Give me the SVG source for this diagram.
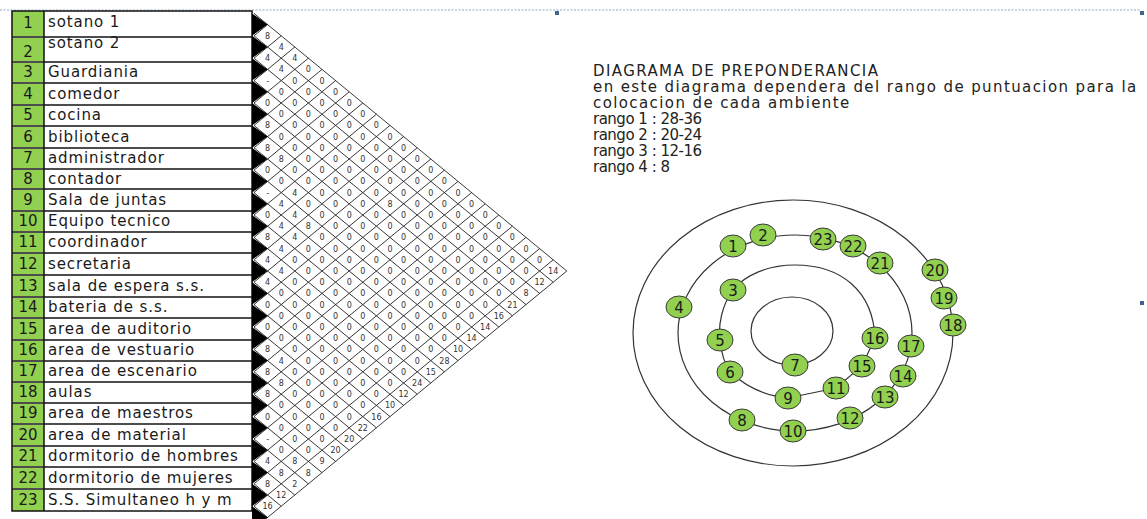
<svg xmlns="http://www.w3.org/2000/svg" width="1147" height="519" viewBox="0 0 1147 519">
<style>
.lbl{font-family:"DejaVu Sans",sans-serif;font-size:15px;letter-spacing:0.9px;fill:#1a1a1a}
.num{font-family:"DejaVu Sans",sans-serif;font-size:15px;text-anchor:middle;fill:#1a1a1a}
.mv{font-family:"DejaVu Sans",sans-serif;font-size:8px;text-anchor:middle;fill:#333}
.grid{stroke:#222;stroke-width:0.9;fill:none}
.txt{font-family:"DejaVu Sans",sans-serif;font-size:15px;letter-spacing:1.4px;fill:#222}
.rg{letter-spacing:-0.5px}
.ring{fill:none;stroke:#333;stroke-width:1.2}
.node ellipse{fill:#92D050;stroke:#3a3a3a;stroke-width:1}
.node text{font-family:"DejaVu Sans",sans-serif;font-size:15px;text-anchor:middle;fill:#1a1a1a}
.sep{stroke:#4d4d4d;stroke-width:1.8}
.handle{fill:#41648f}
</style>
<rect width="1147" height="519" fill="#fff"/>
<line x1="0" y1="10" x2="1140" y2="10" stroke="#8fa8c0" stroke-width="1" stroke-dasharray="2 1.5"/>
<rect class="handle" x="555" y="11" width="4" height="4"/>
<rect class="handle" x="1140" y="11" width="4" height="4"/>
<rect class="handle" x="1140" y="301" width="4" height="4"/>

<g id="table">
<rect x="12" y="11" width="32" height="500" fill="#92D050"/>
<rect x="44" y="11" width="208" height="500" fill="#fff"/>
<path class="sep" d="M12 37H252M12 62H252M12 83H252M12 105H252M12 126H252M12 148H252M12 169H252M12 189H252M12 211H252M12 232H252M12 253H252M12 275H252M12 297H252M12 318H252M12 340H252M12 361H252M12 382H252M12 403H252M12 424H252M12 446H252M12 467H252M12 489H252"/>
<rect x="12" y="11" width="240" height="500" fill="none" stroke="#111" stroke-width="1.5"/>
<line x1="44" y1="11" x2="44" y2="511" stroke="#111" stroke-width="1.5"/>
<g class="num">
<text x="28" y="28">1</text><text x="28" y="57">2</text><text x="28" y="77">3</text><text x="28" y="99">4</text><text x="28" y="120">5</text><text x="28" y="142">6</text><text x="28" y="163">7</text><text x="28" y="184">8</text><text x="28" y="205">9</text><text x="28" y="226">10</text><text x="28" y="247">11</text><text x="28" y="269">12</text><text x="28" y="291">13</text><text x="28" y="312">14</text><text x="28" y="334">15</text><text x="28" y="355">16</text><text x="28" y="376">17</text><text x="28" y="397">18</text><text x="28" y="418">19</text><text x="28" y="440">20</text><text x="28" y="461">21</text><text x="28" y="483">22</text><text x="28" y="505">23</text>
</g>
<g class="lbl">
<text x="48" y="27">sotano 1</text>
<text x="48" y="48">sotano 2</text>
<text x="48" y="77">Guardiania</text>
<text x="48" y="98.5">comedor</text>
<text x="48" y="120">cocina</text>
<text x="48" y="141.5">biblioteca</text>
<text x="48" y="163">administrador</text>
<text x="48" y="183.5">contador</text>
<text x="48" y="204.5">Sala de juntas</text>
<text x="48" y="226">Equipo tecnico</text>
<text x="48" y="247">coordinador</text>
<text x="48" y="268.5">secretaria</text>
<text x="48" y="290.5">sala de espera s.s.</text>
<text x="48" y="312">bateria de s.s.</text>
<text x="48" y="333.5">area de auditorio</text>
<text x="48" y="355">area de vestuario</text>
<text x="48" y="376">area de escenario</text>
<text x="48" y="397">aulas</text>
<text x="48" y="418">area de maestros</text>
<text x="48" y="439.5">area de material</text>
<text x="48" y="461">dormitorio de hombres</text>
<text x="48" y="482.5">dormitorio de mujeres</text>
<text x="48" y="504.5">S.S. Simultaneo h y m</text>
</g>
</g>

<g id="matrix">
<path fill="#000" d="M252 13.4L267.6 24.6L252 35.8L267.6 47L252 58.2L267.6 69.4L252 80.6L267.6 91.8L252 103L267.6 114.2L252 125.4L267.6 136.6L252 147.8L267.6 159L252 170.2L267.6 181.4L252 192.6L267.6 203.8L252 215L267.6 226.2L252 237.4L267.6 248.6L252 259.8L267.6 271L252 282.2L267.6 293.4L252 304.6L267.6 315.8L252 327L267.6 338.2L252 349.4L267.6 360.6L252 371.8L267.6 383L252 394.2L267.6 405.4L252 416.6L267.6 427.8L252 439L267.6 450.2L252 461.4L267.6 472.6L252 483.8L267.6 495L252 506.2L267.6 517.4L252 528.6Z"/>
<path class="grid" d="M254 13.4L566.8 271M254 35.8L553.2 282.2M254 58.2L539.6 293.4M254 80.6L526 304.6M254 103L512.4 315.8M254 125.4L498.8 327M254 147.8L485.2 338.2M254 170.2L471.6 349.4M254 192.6L458 360.6M254 215L444.4 371.8M254 237.4L430.8 383M254 259.8L417.2 394.2M254 282.2L403.6 405.4M254 304.6L390 416.6M254 327L376.4 427.8M254 349.4L362.8 439M254 371.8L349.2 450.2M254 394.2L335.6 461.4M254 416.6L322 472.6M254 439L308.4 483.8M254 461.4L294.8 495M254 483.8L281.2 506.2M254 506.2L267.6 517.4
M254 35.8L267.6 24.6M254 58.2L281.2 35.8M254 80.6L294.8 47M254 103L308.4 58.2M254 125.4L322 69.4M254 147.8L335.6 80.6M254 170.2L349.2 91.8M254 192.6L362.8 103M254 215L376.4 114.2M254 237.4L390 125.4M254 259.8L403.6 136.6M254 282.2L417.2 147.8M254 304.6L430.8 159M254 327L444.4 170.2M254 349.4L458 181.4M254 371.8L471.6 192.6M254 394.2L485.2 203.8M254 416.6L498.8 215M254 439L512.4 226.2M254 461.4L526 237.4M254 483.8L539.6 248.6M254 506.2L553.2 259.8M254 528.6L566.8 271"/>
<text class="mv"><tspan x="267.6" y="38.8">8</tspan><tspan x="267.6" dy="22.4">4</tspan><tspan x="267.6" dy="22.4">-</tspan><tspan x="267.6" dy="22.4">0</tspan><tspan x="267.6" dy="22.4">8</tspan><tspan x="267.6" dy="22.4">8</tspan><tspan x="267.6" dy="22.4">0</tspan><tspan x="267.6" dy="22.4">-</tspan><tspan x="267.6" dy="22.4">0</tspan><tspan x="267.6" dy="22.4">8</tspan><tspan x="267.6" dy="22.4">4</tspan><tspan x="267.6" dy="22.4">4</tspan><tspan x="267.6" dy="22.4">0</tspan><tspan x="267.6" dy="22.4">0</tspan><tspan x="267.6" dy="22.4">8</tspan><tspan x="267.6" dy="22.4">8</tspan><tspan x="267.6" dy="22.4">8</tspan><tspan x="267.6" dy="22.4">0</tspan><tspan x="267.6" dy="22.4">-</tspan><tspan x="267.6" dy="22.4">4</tspan><tspan x="267.6" dy="22.4">8</tspan><tspan x="267.6" dy="22.4">16</tspan></text>
<text class="mv"><tspan x="281.2" y="50">4</tspan><tspan x="281.2" dy="22.4">4</tspan><tspan x="281.2" dy="22.4">0</tspan><tspan x="281.2" dy="22.4">0</tspan><tspan x="281.2" dy="22.4">0</tspan><tspan x="281.2" dy="22.4">8</tspan><tspan x="281.2" dy="22.4">0</tspan><tspan x="281.2" dy="22.4">4</tspan><tspan x="281.2" dy="22.4">4</tspan><tspan x="281.2" dy="22.4">4</tspan><tspan x="281.2" dy="22.4">4</tspan><tspan x="281.2" dy="22.4">0</tspan><tspan x="281.2" dy="22.4">0</tspan><tspan x="281.2" dy="22.4">0</tspan><tspan x="281.2" dy="22.4">4</tspan><tspan x="281.2" dy="22.4">8</tspan><tspan x="281.2" dy="22.4">0</tspan><tspan x="281.2" dy="22.4">0</tspan><tspan x="281.2" dy="22.4">0</tspan><tspan x="281.2" dy="22.4">8</tspan><tspan x="281.2" dy="22.4">12</tspan></text>
<text class="mv"><tspan x="294.8" y="61.2">4</tspan><tspan x="294.8" dy="22.4">0</tspan><tspan x="294.8" dy="22.4">0</tspan><tspan x="294.8" dy="22.4">0</tspan><tspan x="294.8" dy="22.4">0</tspan><tspan x="294.8" dy="22.4">0</tspan><tspan x="294.8" dy="22.4">4</tspan><tspan x="294.8" dy="22.4">4</tspan><tspan x="294.8" dy="22.4">4</tspan><tspan x="294.8" dy="22.4">0</tspan><tspan x="294.8" dy="22.4">0</tspan><tspan x="294.8" dy="22.4">0</tspan><tspan x="294.8" dy="22.4">0</tspan><tspan x="294.8" dy="22.4">0</tspan><tspan x="294.8" dy="22.4">0</tspan><tspan x="294.8" dy="22.4">0</tspan><tspan x="294.8" dy="22.4">0</tspan><tspan x="294.8" dy="22.4">0</tspan><tspan x="294.8" dy="22.4">8</tspan><tspan x="294.8" dy="22.4">2</tspan></text>
<text class="mv"><tspan x="308.4" y="72.4">0</tspan><tspan x="308.4" dy="22.4">0</tspan><tspan x="308.4" dy="22.4">0</tspan><tspan x="308.4" dy="22.4">0</tspan><tspan x="308.4" dy="22.4">0</tspan><tspan x="308.4" dy="22.4">0</tspan><tspan x="308.4" dy="22.4">0</tspan><tspan x="308.4" dy="22.4">8</tspan><tspan x="308.4" dy="22.4">0</tspan><tspan x="308.4" dy="22.4">0</tspan><tspan x="308.4" dy="22.4">0</tspan><tspan x="308.4" dy="22.4">0</tspan><tspan x="308.4" dy="22.4">0</tspan><tspan x="308.4" dy="22.4">0</tspan><tspan x="308.4" dy="22.4">0</tspan><tspan x="308.4" dy="22.4">0</tspan><tspan x="308.4" dy="22.4">0</tspan><tspan x="308.4" dy="22.4">0</tspan><tspan x="308.4" dy="22.4">8</tspan></text>
<text class="mv"><tspan x="322" y="83.6">0</tspan><tspan x="322" dy="22.4">0</tspan><tspan x="322" dy="22.4">0</tspan><tspan x="322" dy="22.4">0</tspan><tspan x="322" dy="22.4">0</tspan><tspan x="322" dy="22.4">0</tspan><tspan x="322" dy="22.4">0</tspan><tspan x="322" dy="22.4">0</tspan><tspan x="322" dy="22.4">0</tspan><tspan x="322" dy="22.4">0</tspan><tspan x="322" dy="22.4">0</tspan><tspan x="322" dy="22.4">0</tspan><tspan x="322" dy="22.4">0</tspan><tspan x="322" dy="22.4">0</tspan><tspan x="322" dy="22.4">0</tspan><tspan x="322" dy="22.4">0</tspan><tspan x="322" dy="22.4">0</tspan><tspan x="322" dy="22.4">9</tspan></text>
<text class="mv"><tspan x="335.6" y="94.8">0</tspan><tspan x="335.6" dy="22.4">0</tspan><tspan x="335.6" dy="22.4">0</tspan><tspan x="335.6" dy="22.4">0</tspan><tspan x="335.6" dy="22.4">0</tspan><tspan x="335.6" dy="22.4">0</tspan><tspan x="335.6" dy="22.4">0</tspan><tspan x="335.6" dy="22.4">0</tspan><tspan x="335.6" dy="22.4">0</tspan><tspan x="335.6" dy="22.4">0</tspan><tspan x="335.6" dy="22.4">0</tspan><tspan x="335.6" dy="22.4">0</tspan><tspan x="335.6" dy="22.4">0</tspan><tspan x="335.6" dy="22.4">0</tspan><tspan x="335.6" dy="22.4">0</tspan><tspan x="335.6" dy="22.4">0</tspan><tspan x="335.6" dy="22.4">20</tspan></text>
<text class="mv"><tspan x="349.2" y="106">0</tspan><tspan x="349.2" dy="22.4">0</tspan><tspan x="349.2" dy="22.4">0</tspan><tspan x="349.2" dy="22.4">0</tspan><tspan x="349.2" dy="22.4">0</tspan><tspan x="349.2" dy="22.4">0</tspan><tspan x="349.2" dy="22.4">0</tspan><tspan x="349.2" dy="22.4">0</tspan><tspan x="349.2" dy="22.4">0</tspan><tspan x="349.2" dy="22.4">0</tspan><tspan x="349.2" dy="22.4">0</tspan><tspan x="349.2" dy="22.4">0</tspan><tspan x="349.2" dy="22.4">0</tspan><tspan x="349.2" dy="22.4">0</tspan><tspan x="349.2" dy="22.4">0</tspan><tspan x="349.2" dy="22.4">20</tspan></text>
<text class="mv"><tspan x="362.8" y="117.2">0</tspan><tspan x="362.8" dy="22.4">0</tspan><tspan x="362.8" dy="22.4">0</tspan><tspan x="362.8" dy="22.4">0</tspan><tspan x="362.8" dy="22.4">0</tspan><tspan x="362.8" dy="22.4">0</tspan><tspan x="362.8" dy="22.4">0</tspan><tspan x="362.8" dy="22.4">0</tspan><tspan x="362.8" dy="22.4">0</tspan><tspan x="362.8" dy="22.4">0</tspan><tspan x="362.8" dy="22.4">0</tspan><tspan x="362.8" dy="22.4">0</tspan><tspan x="362.8" dy="22.4">0</tspan><tspan x="362.8" dy="22.4">0</tspan><tspan x="362.8" dy="22.4">22</tspan></text>
<text class="mv"><tspan x="376.4" y="128.4">0</tspan><tspan x="376.4" dy="22.4">0</tspan><tspan x="376.4" dy="22.4">0</tspan><tspan x="376.4" dy="22.4">0</tspan><tspan x="376.4" dy="22.4">0</tspan><tspan x="376.4" dy="22.4">0</tspan><tspan x="376.4" dy="22.4">0</tspan><tspan x="376.4" dy="22.4">0</tspan><tspan x="376.4" dy="22.4">0</tspan><tspan x="376.4" dy="22.4">0</tspan><tspan x="376.4" dy="22.4">0</tspan><tspan x="376.4" dy="22.4">0</tspan><tspan x="376.4" dy="22.4">0</tspan><tspan x="376.4" dy="22.4">16</tspan></text>
<text class="mv"><tspan x="390" y="139.6">0</tspan><tspan x="390" dy="22.4">0</tspan><tspan x="390" dy="22.4">0</tspan><tspan x="390" dy="22.4">8</tspan><tspan x="390" dy="22.4">0</tspan><tspan x="390" dy="22.4">0</tspan><tspan x="390" dy="22.4">0</tspan><tspan x="390" dy="22.4">0</tspan><tspan x="390" dy="22.4">0</tspan><tspan x="390" dy="22.4">0</tspan><tspan x="390" dy="22.4">0</tspan><tspan x="390" dy="22.4">0</tspan><tspan x="390" dy="22.4">10</tspan></text>
<text class="mv"><tspan x="403.6" y="150.8">0</tspan><tspan x="403.6" dy="22.4">0</tspan><tspan x="403.6" dy="22.4">0</tspan><tspan x="403.6" dy="22.4">0</tspan><tspan x="403.6" dy="22.4">0</tspan><tspan x="403.6" dy="22.4">0</tspan><tspan x="403.6" dy="22.4">0</tspan><tspan x="403.6" dy="22.4">0</tspan><tspan x="403.6" dy="22.4">0</tspan><tspan x="403.6" dy="22.4">0</tspan><tspan x="403.6" dy="22.4">0</tspan><tspan x="403.6" dy="22.4">12</tspan></text>
<text class="mv"><tspan x="417.2" y="162">0</tspan><tspan x="417.2" dy="22.4">0</tspan><tspan x="417.2" dy="22.4">0</tspan><tspan x="417.2" dy="22.4">0</tspan><tspan x="417.2" dy="22.4">0</tspan><tspan x="417.2" dy="22.4">0</tspan><tspan x="417.2" dy="22.4">0</tspan><tspan x="417.2" dy="22.4">0</tspan><tspan x="417.2" dy="22.4">0</tspan><tspan x="417.2" dy="22.4">0</tspan><tspan x="417.2" dy="22.4">24</tspan></text>
<text class="mv"><tspan x="430.8" y="173.2">0</tspan><tspan x="430.8" dy="22.4">0</tspan><tspan x="430.8" dy="22.4">0</tspan><tspan x="430.8" dy="22.4">0</tspan><tspan x="430.8" dy="22.4">0</tspan><tspan x="430.8" dy="22.4">0</tspan><tspan x="430.8" dy="22.4">0</tspan><tspan x="430.8" dy="22.4">0</tspan><tspan x="430.8" dy="22.4">0</tspan><tspan x="430.8" dy="22.4">15</tspan></text>
<text class="mv"><tspan x="444.4" y="184.4">0</tspan><tspan x="444.4" dy="22.4">0</tspan><tspan x="444.4" dy="22.4">0</tspan><tspan x="444.4" dy="22.4">0</tspan><tspan x="444.4" dy="22.4">0</tspan><tspan x="444.4" dy="22.4">0</tspan><tspan x="444.4" dy="22.4">0</tspan><tspan x="444.4" dy="22.4">0</tspan><tspan x="444.4" dy="22.4">28</tspan></text>
<text class="mv"><tspan x="458" y="195.6">0</tspan><tspan x="458" dy="22.4">0</tspan><tspan x="458" dy="22.4">0</tspan><tspan x="458" dy="22.4">0</tspan><tspan x="458" dy="22.4">0</tspan><tspan x="458" dy="22.4">0</tspan><tspan x="458" dy="22.4">0</tspan><tspan x="458" dy="22.4">10</tspan></text>
<text class="mv"><tspan x="471.6" y="206.8">0</tspan><tspan x="471.6" dy="22.4">0</tspan><tspan x="471.6" dy="22.4">0</tspan><tspan x="471.6" dy="22.4">0</tspan><tspan x="471.6" dy="22.4">0</tspan><tspan x="471.6" dy="22.4">0</tspan><tspan x="471.6" dy="22.4">14</tspan></text>
<text class="mv"><tspan x="485.2" y="218">0</tspan><tspan x="485.2" dy="22.4">0</tspan><tspan x="485.2" dy="22.4">0</tspan><tspan x="485.2" dy="22.4">0</tspan><tspan x="485.2" dy="22.4">0</tspan><tspan x="485.2" dy="22.4">14</tspan></text>
<text class="mv"><tspan x="498.8" y="229.2">0</tspan><tspan x="498.8" dy="22.4">0</tspan><tspan x="498.8" dy="22.4">0</tspan><tspan x="498.8" dy="22.4">0</tspan><tspan x="498.8" dy="22.4">16</tspan></text>
<text class="mv"><tspan x="512.4" y="240.4">0</tspan><tspan x="512.4" dy="22.4">0</tspan><tspan x="512.4" dy="22.4">0</tspan><tspan x="512.4" dy="22.4">21</tspan></text>
<text class="mv"><tspan x="526" y="251.6">0</tspan><tspan x="526" dy="22.4">0</tspan><tspan x="526" dy="22.4">8</tspan></text>
<text class="mv"><tspan x="539.6" y="262.8">0</tspan><tspan x="539.6" dy="22.4">12</tspan></text>
<text class="mv"><tspan x="553.2" y="274">14</tspan></text>
</g>

<g id="description" class="txt">
<text x="593" y="76">DIAGRAMA DE PREPONDERANCIA</text>
<text x="593" y="92">en este diagrama dependera del rango de puntuacion para la</text>
<text x="593" y="108">colocacion de cada ambiente</text>
<text class="rg" x="593" y="124">rango 1 : 28-36</text>
<text class="rg" x="593" y="140">rango 2 : 20-24</text>
<text class="rg" x="593" y="156">rango 3 : 12-16</text>
<text class="rg" x="593" y="172">rango 4 : 8</text>
</g>

<g id="connectors">
<ellipse class="ring" cx="793" cy="333" rx="160" ry="133"/>
<ellipse class="ring" cx="795" cy="333" rx="117" ry="98"/>
<path class="ring" d="M875 338C873 290 840 265 795 265C768 265 745 275 733 290C722 305 718 325 720 340Q722 360 730 372Q755 395 788 398L836 388L862 366L875 338Z"/>
<ellipse class="ring" cx="792" cy="331" rx="41" ry="34"/>
</g>

<g id="node-1" class="node"><ellipse cx="733" cy="246" rx="13" ry="11"/><text x="733" y="251.5">1</text></g>
<g id="node-2" class="node"><ellipse cx="763" cy="235" rx="13" ry="11"/><text x="763" y="240.5">2</text></g>
<g id="node-3" class="node"><ellipse cx="733" cy="290" rx="13" ry="11"/><text x="733" y="295.5">3</text></g>
<g id="node-4" class="node"><ellipse cx="679" cy="307" rx="13" ry="11"/><text x="679" y="312.5">4</text></g>
<g id="node-5" class="node"><ellipse cx="720" cy="340" rx="13" ry="11"/><text x="720" y="345.5">5</text></g>
<g id="node-6" class="node"><ellipse cx="730" cy="372" rx="13" ry="11"/><text x="730" y="377.5">6</text></g>
<g id="node-7" class="node"><ellipse cx="795" cy="365" rx="13" ry="11"/><text x="795" y="370.5">7</text></g>
<g id="node-8" class="node"><ellipse cx="742" cy="420" rx="13" ry="11"/><text x="742" y="425.5">8</text></g>
<g id="node-9" class="node"><ellipse cx="788" cy="398" rx="13" ry="11"/><text x="788" y="403.5">9</text></g>
<g id="node-10" class="node"><ellipse cx="793" cy="431" rx="13" ry="11"/><text x="793" y="436.5">10</text></g>
<g id="node-11" class="node"><ellipse cx="836" cy="388" rx="13" ry="11"/><text x="836" y="393.5">11</text></g>
<g id="node-12" class="node"><ellipse cx="850" cy="418" rx="13" ry="11"/><text x="850" y="423.5">12</text></g>
<g id="node-13" class="node"><ellipse cx="885" cy="397" rx="13" ry="11"/><text x="885" y="402.5">13</text></g>
<g id="node-14" class="node"><ellipse cx="903" cy="376" rx="13" ry="11"/><text x="903" y="381.5">14</text></g>
<g id="node-15" class="node"><ellipse cx="862" cy="366" rx="13" ry="11"/><text x="862" y="371.5">15</text></g>
<g id="node-16" class="node"><ellipse cx="875" cy="338" rx="13" ry="11"/><text x="875" y="343.5">16</text></g>
<g id="node-17" class="node"><ellipse cx="911" cy="346" rx="13" ry="11"/><text x="911" y="351.5">17</text></g>
<g id="node-18" class="node"><ellipse cx="953" cy="325" rx="13" ry="11"/><text x="953" y="330.5">18</text></g>
<g id="node-19" class="node"><ellipse cx="944" cy="298" rx="13" ry="11"/><text x="944" y="303.5">19</text></g>
<g id="node-20" class="node"><ellipse cx="935" cy="270" rx="13" ry="11"/><text x="935" y="275.5">20</text></g>
<g id="node-21" class="node"><ellipse cx="880" cy="263" rx="13" ry="11"/><text x="880" y="268.5">21</text></g>
<g id="node-22" class="node"><ellipse cx="853" cy="246" rx="13" ry="11"/><text x="853" y="251.5">22</text></g>
<g id="node-23" class="node"><ellipse cx="823" cy="239" rx="13" ry="11"/><text x="823" y="244.5">23</text></g>
</svg>
